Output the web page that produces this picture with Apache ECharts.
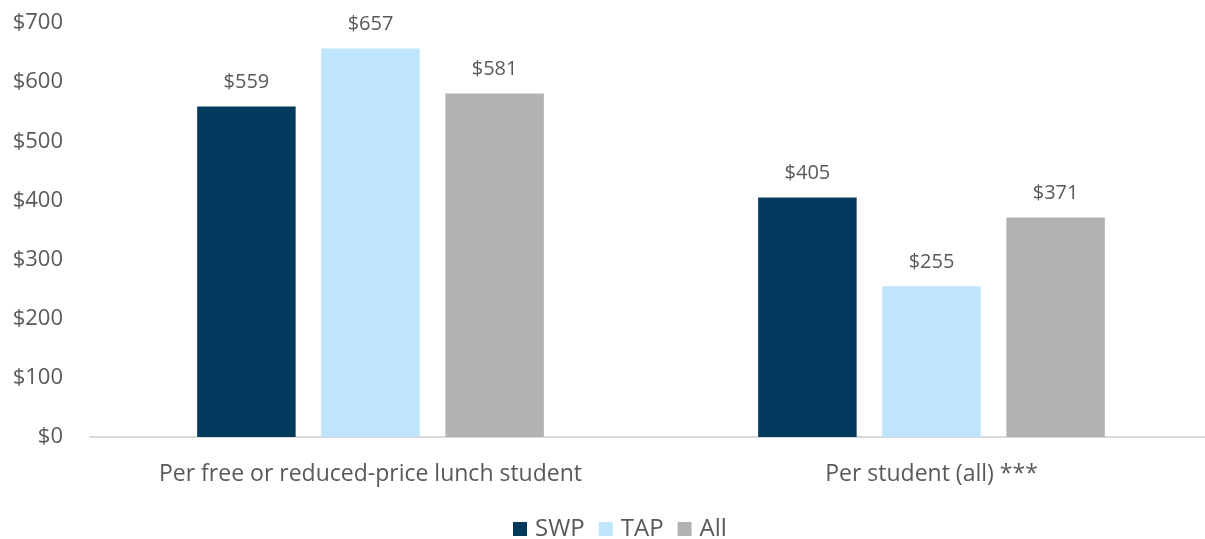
<!DOCTYPE html>
<html>
<head>
<meta charset="utf-8">
<script src="https://cdn.jsdelivr.net/npm/echarts@6/dist/echarts.min.js"></script>
<style>
  html, body { margin: 0; padding: 0; background: #fff; }
  #main { width: 1205px; height: 539px; }
</style>
</head>
<body>
<div id="main"></div>
<script>
// 类别与数据
var categories = ['Per free or reduced-price lunch student', 'Per student (all) ***'];
var swp = [559, 405];
var tap = [657, 255];
var all = [581, 371];
var yTicks = [0, 100, 200, 300, 400, 500, 600, 700];

var textColor = '#595959';
var font = '"Open Sans", sans-serif';

function barSeries(name, data, color) {
    return {
        name: name,
        type: 'bar',
        data: data,
        barGap: '26%',
        barCategoryGap: '38.2%',
        itemStyle: {color: color},
        label: {
            show: true,
            position: 'top',
            distance: 14,
            color: textColor,
            fontFamily: font,
            fontSize: 20,
            formatter: function(p) { return '$' + p.value; }
        }
    };
}

var chart = echarts.init(document.getElementById('main'));
chart.setOption({
    animation: false,
    textStyle: {fontFamily: font},
    grid: {left: 90, top: 23, bottom: 102, width: 1122, containLabel: false, outerBoundsMode: 'none'},
    legend: {
        top: 512,
        left: 508,
        itemWidth: 14,
        itemHeight: 14,
        itemGap: 14,
        icon: 'rect',
        textStyle: {color: textColor, fontSize: 24, fontFamily: font, padding: [0, 0, 0, 3]},
        data: ['SWP', 'TAP', 'All']
    },
    xAxis: {
        type: 'category',
        data: categories,
        axisLine: {lineStyle: {color: '#D9D9D9', width: 2}},
        axisTick: {show: false},
        axisLabel: {color: textColor, fontSize: 23, fontFamily: font, margin: 26}
    },
    yAxis: {
        type: 'value',
        min: yTicks[0],
        max: yTicks[yTicks.length - 1],
        interval: 100,
        splitLine: {show: false},
        axisLine: {show: false},
        axisTick: {show: false},
        axisLabel: {
            color: textColor, fontSize: 22, fontFamily: font, margin: 27,
            formatter: function(v) { return '$' + v; }
        }
    },
    series: [
        barSeries('SWP', swp, '#023A5E'),
        barSeries('TAP', tap, '#BEE5FC'),
        barSeries('All', all, '#B2B2B2')
    ]
});
</script>
</body>
</html>
